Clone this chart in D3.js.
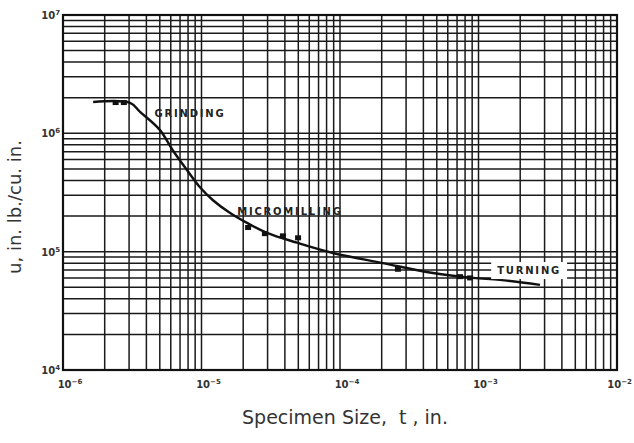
<!DOCTYPE html>
<html><head><meta charset="utf-8">
<script src="https://cdn.jsdelivr.net/npm/d3@7"></script>
<style>body{margin:0;background:#fff;} svg{display:block;}</style>
</head><body>
<svg id="c" width="634" height="443"></svg>
<script>
// Data
const xTickExps = [-6, -5, -4, -3, -2];
const yTickExps = [4, 5, 6, 7];
const curveT = [1.65e-6, 3.05e-6, 3.6e-6, 5.0e-6, 6.2e-6, 7.85e-6, 9.75e-6, 1.21e-5, 1.61e-5, 2.13e-5, 2.97e-5, 4.9e-5, 8.9e-5, 2.04e-4, 4.69e-4, 9.1e-4, 1.43e-3, 2.78e-3];
const curveU = [1.84e6, 1.81e6, 1.52e6, 1.07e6, 7.2e5, 4.9e5, 3.5e5, 2.72e5, 2.12e5, 1.75e5, 1.44e5, 1.19e5, 9.75e4, 8.0e4, 6.6e4, 6.0e4, 5.77e4, 5.24e4];
const markerT = [2.4e-6, 2.75e-6, 2.17e-5, 2.87e-5, 3.87e-5, 4.98e-5, 2.62e-4, 7.35e-4, 8.7e-4];
const markerU = [1.82e6, 1.82e6, 1.6e5, 1.42e5, 1.36e5, 1.31e5, 7.1e4, 6.15e4, 6.0e4];
const labels = ["GRINDING", "MICROMILLING", "TURNING"];
const labelT = [8.26e-6, 4.35e-5, 2.32e-3];
const labelU = [1.38e6, 2.04e5, 6.47e4];

const svg = d3.select("#c");
const L = 63, R = 617, T = 15, B = 370;
const x = d3.scaleLog().domain([1e-6, 1e-2]).range([L, R]);
const y = d3.scaleLog().domain([1e4, 1e7]).range([B, T]);

// Grid lines (graph paper)
const gx = [], gy = [];
for (let e = -6; e < -2; e++) for (let m = 1; m <= 9; m++) gx.push(m * Math.pow(10, e));
gx.push(1e-2);
for (let e = 4; e < 7; e++) for (let m = 1; m <= 9; m++) gy.push(m * Math.pow(10, e));
gy.push(1e7);

const g = svg.append("g");
g.selectAll("line.vx").data(gx).join("line")
  .attr("x1", d => x(d)).attr("x2", d => x(d)).attr("y1", T).attr("y2", B)
  .attr("stroke", "#1a1a1a").attr("stroke-width", 1.5);
g.selectAll("line.hy").data(gy).join("line")
  .attr("y1", d => y(d)).attr("y2", d => y(d)).attr("x1", L).attr("x2", R)
  .attr("stroke", "#1a1a1a").attr("stroke-width", 1.5);
g.append("rect").attr("x", L).attr("y", T).attr("width", R - L).attr("height", B - T)
  .attr("fill", "none").attr("stroke", "#111").attr("stroke-width", 2.2);

// Tick labels
const sup = (sel, e) => {
  sel.append("tspan").text("10");
  sel.append("tspan").attr("dy", -4).attr("font-size", 7).text(e < 0 ? "\u2212" + (-e) : String(e));
};
xTickExps.forEach((e, i) => {
  const last = i === xTickExps.length - 1;
  const t = svg.append("text").attr("x", last ? 632 : x(Math.pow(10, e)) + 7).attr("y", 388)
    .attr("text-anchor", last ? "end" : "middle").attr("font-family", "DejaVu Sans, sans-serif")
    .attr("font-size", 10).attr("font-weight", "bold").attr("fill", "#333");
  sup(t, e);
});
yTickExps.forEach(e => {
  const t = svg.append("text").attr("x", L - 3).attr("y", y(Math.pow(10, e)) + 4)
    .attr("text-anchor", "end").attr("font-family", "DejaVu Sans, sans-serif")
    .attr("font-size", 10).attr("font-weight", "bold").attr("fill", "#333");
  sup(t, e);
});

// Curve
const pts = curveT.map((t, i) => [x(t), y(curveU[i])]);
svg.append("path").attr("d", d3.line().curve(d3.curveCatmullRom.alpha(0.5))(pts))
  .attr("fill", "none").attr("stroke", "#111").attr("stroke-width", 2.4);
svg.selectAll("rect.m").data(markerT).join("rect")
  .attr("x", (d) => x(d) - 3).attr("y", (d, i) => y(markerU[i]) - 2.5)
  .attr("width", 6).attr("height", 5).attr("fill", "#111");

// Labels
labels.forEach((s, i) => {
  const tx = svg.append("text").attr("x", x(labelT[i])).attr("y", y(labelU[i]))
    .attr("text-anchor", "middle").attr("font-family", "DejaVu Sans, sans-serif")
    .attr("font-size", 10).attr("font-weight", "bold").attr("letter-spacing", 1.8)
    .attr("fill", "#222").text(s);
  if (s === "TURNING") {
    const bb = tx.node().getBBox();
    svg.insert("rect", () => tx.node()).attr("x", bb.x - 6).attr("y", bb.y - 3)
      .attr("width", bb.width + 12).attr("height", bb.height + 6).attr("fill", "#fff");
  }
});

// Axis titles
svg.append("text").attr("x", 345).attr("y", 424).attr("text-anchor", "middle")
  .attr("font-family", "DejaVu Sans, sans-serif").attr("font-size", 19).attr("fill", "#333")
  .attr("xml:space", "preserve").text("Specimen Size,  t , in.");
svg.append("text").attr("transform", "translate(21,207) rotate(-90)").attr("text-anchor", "middle")
  .attr("font-family", "DejaVu Sans, sans-serif").attr("font-size", 18).attr("fill", "#333")
  .text("u, in. lb./cu. in.");
</script>
</body></html>
